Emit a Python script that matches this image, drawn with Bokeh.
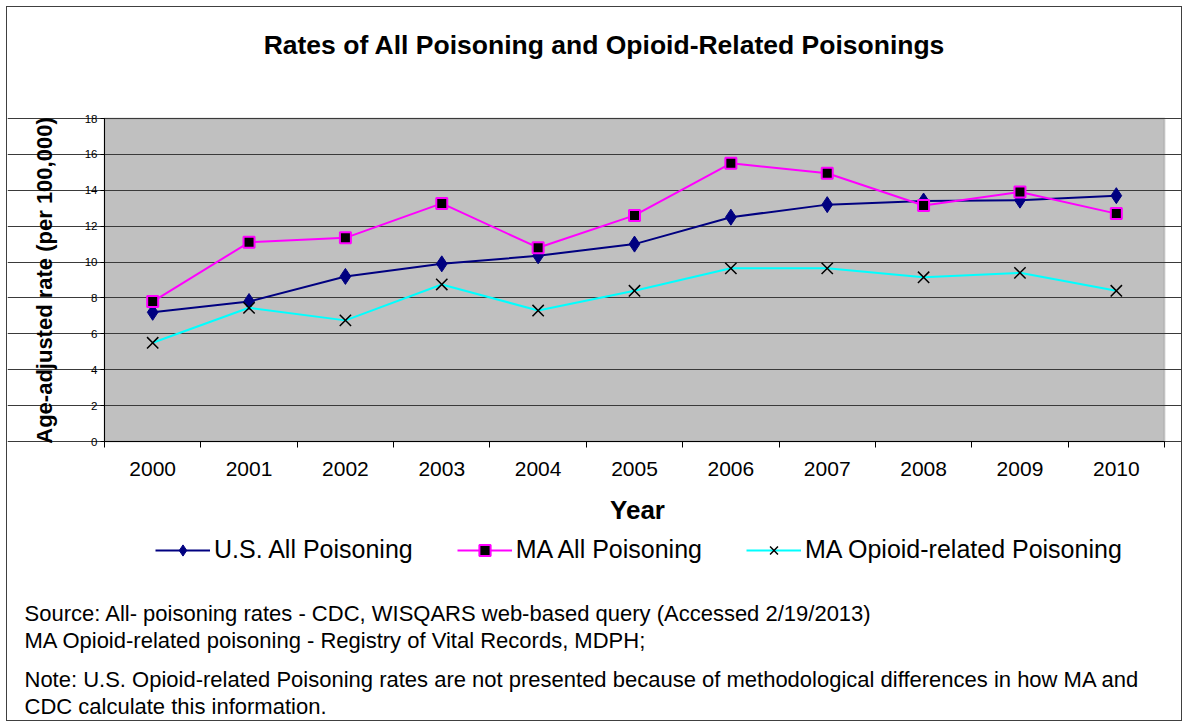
import math
from bokeh.plotting import figure
from bokeh.models import (Range1d, FixedTicker, Legend, LegendItem, LinearAxis, Label,
                          BoxAnnotation, Grid)
from bokeh.embed import file_html
from bokeh.resources import INLINE

# ---- data ----
years = [2000, 2001, 2002, 2003, 2004, 2005, 2006, 2007, 2008, 2009, 2010]
us_all = [7.2, 7.8, 9.2, 9.9, 10.35, 11.0, 12.5, 13.2, 13.4, 13.45, 13.7]
ma_all = [7.8, 11.1, 11.35, 13.27, 10.8, 12.6, 15.5, 14.95, 13.15, 13.9, 12.7]
ma_opioid = [5.5, 7.45, 6.75, 8.75, 7.3, 8.4, 9.65, 9.65, 9.15, 9.4, 8.4]
y_ticks = [0, 2, 4, 6, 8, 10, 12, 14, 16, 18]

title_text = "Rates of All Poisoning and Opioid-Related Poisonings"
y_label = "Age-adjusted rate (per 100,000)"
x_label = "Year"
series_names = ["U.S. All Poisoning", "MA All Poisoning", "MA Opioid-related Poisoning"]
notes = [
    "Source: All- poisoning rates - CDC, WISQARS web-based query (Accessed 2/19/2013)",
    "MA Opioid-related poisoning - Registry of Vital Records, MDPH;",
    "Note: U.S. Opioid-related Poisoning rates are not presented because of methodological differences in how MA and",
    "CDC calculate this information.",
]

FONT = "Liberation Sans"

# ---- layout (pixels) ----
W, H = 1176, 715                 # canvas size
PL, PR, PT, PB = 97, 1157, 111, 434   # plot-area edges inside the canvas

x0, x1 = years[0] - 0.5, years[-1] + 0.5
y0, y1 = y_ticks[0], y_ticks[-1]
sx = (x1 - x0) / (PR - PL)
sy = (y1 - y0) / (PB - PT)
x_range = Range1d(x0 - PL * sx, x1 + (W - PR) * sx)
y_range = Range1d(y0 - (H - PB) * sy, y1 + PT * sy)

p = figure(width=W, height=H, output_backend="svg", toolbar_location=None,
           x_range=x_range, y_range=y_range, min_border=0,
           background_fill_color="white", border_fill_color="white",
           x_axis_type=None, y_axis_type=None)
p.title.visible = False
p.styles = {"border": "1px solid #404040", "margin": "6px 0px 0px 6px"}
p.outline_line_color = None
p.xgrid.visible = False
p.ygrid.visible = False

# plot area background
p.add_layout(BoxAnnotation(left=x0, right=x1, bottom=y0, top=y1, fill_color="#C0C0C0",
                           fill_alpha=1, line_color="#808080", line_width=2, level="image"))

# horizontal grid lines
grid = Grid(dimension=1, ticker=FixedTicker(ticks=y_ticks), bounds=(x0, x1),
            grid_line_color="#3a3a3a", grid_line_width=1.2, level="underlay")
p.add_layout(grid)

# y axis
yax = LinearAxis(ticker=FixedTicker(ticks=y_ticks), fixed_location=x0, bounds=(y0, y1))
yax.axis_line_color = "black"
yax.major_tick_line_color = "black"
yax.major_tick_out = 4
yax.major_tick_in = 0
yax.minor_tick_line_color = None
yax.major_label_text_font = FONT
yax.major_label_text_font_size = "11.5px"
yax.major_label_text_color = "black"
yax.major_label_standoff = 3
p.add_layout(yax, "left")

# x axis (ticks between categories)
xax = LinearAxis(ticker=FixedTicker(ticks=years,
                                    minor_ticks=[y - 0.5 for y in years] + [years[-1] + 0.5]),
                 fixed_location=y0, bounds=(x0, x1))
xax.axis_line_color = "black"
xax.major_tick_line_color = None
xax.minor_tick_line_color = "black"
xax.minor_tick_out = 6
xax.minor_tick_in = 0
xax.major_label_text_font = FONT
xax.major_label_text_font_size = "21px"
xax.major_label_text_color = "black"
xax.major_label_standoff = 14
p.add_layout(xax, "below")

# series
l1 = p.line(years, us_all, line_color="#000080", line_width=2)
m1 = p.scatter(years, us_all, marker="diamond", size=16,
               fill_color="#000080", line_color="#000080")
l2 = p.line(years, ma_all, line_color="#FF00FF", line_width=2)
m2 = p.scatter(years, ma_all, marker="square", size=11, fill_color="black",
               line_color="#FF00FF", line_width=2)
l3 = p.line(years, ma_opioid, line_color="#00FFFF", line_width=2)
m3 = p.scatter(years, ma_opioid, marker="x", size=16, line_color="black", line_width=1.5)

legend = Legend(items=[LegendItem(label=series_names[0], renderers=[l1, m1]),
                       LegendItem(label=series_names[1], renderers=[l2, m2]),
                       LegendItem(label=series_names[2], renderers=[l3, m3])],
                orientation="horizontal", location=(148, 158))
legend.glyph_width = 55
legend.glyph_height = 28
legend.label_height = 28
legend.label_standoff = 4
legend.spacing = 44
legend.padding = 0
legend.margin = 0
legend.border_line_color = None
legend.background_fill_alpha = 0
legend.label_text_font = FONT
legend.label_text_font_size = "25px"
legend.label_text_color = "black"
p.add_layout(legend, "center")


def label(px, py, text, size, bold=False, angle=0.0, align="left"):
    p.add_layout(Label(x=px, y=H - py, x_units="screen", y_units="screen", text=text,
                       text_font=FONT, text_font_size=size,
                       text_font_style="bold" if bold else "normal", text_color="black",
                       angle=angle, text_align=align, text_baseline="middle"))


label(597, 37, title_text, "26.5px", bold=True, align="center")
label(37, 273, y_label, "22px", bold=True, angle=math.pi / 2, align="center")
label(630, 502, x_label, "26px", bold=True, align="center")
for t, py in zip(notes, [606, 633, 672, 699]):
    label(17, py, t, "22px")

open("out.html", "w").write(file_html(p, INLINE))
